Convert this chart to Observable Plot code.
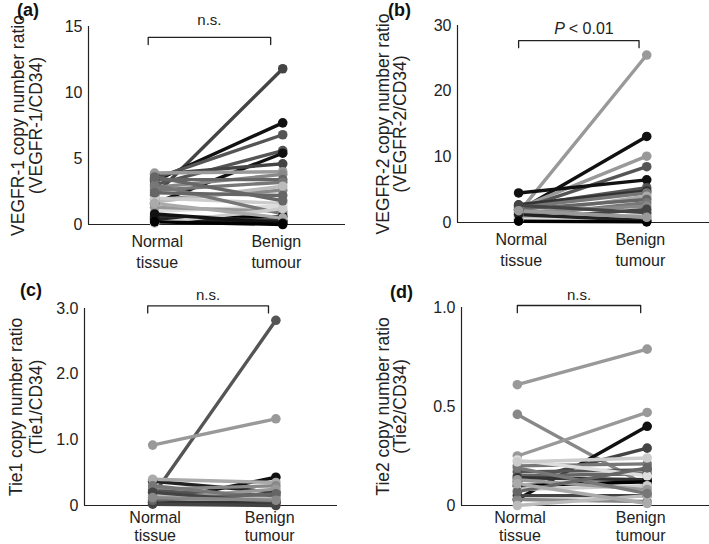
<!DOCTYPE html>
<html>
<head>
<meta charset="utf-8">
<script src="https://cdn.jsdelivr.net/npm/d3@7"></script>
<script src="https://cdn.jsdelivr.net/npm/@observablehq/plot@0.6"></script>
<style>
  body { margin: 0; background: #fff; }
  #root { position: relative; width: 709px; height: 544px; overflow: hidden; font-family: "Liberation Sans", Arial, sans-serif; }
  .panel { position: absolute; }
  .letter { position: absolute; font-weight: bold; font-size: 18px; line-height: 18px; color: #111; }
</style>
</head>
<body>
<div id="root"></div>
<script>
// ---------- data ----------
const xCats = ["Normal\ntissue", "Benign\ntumour"];
const xCatPos = [0.02, 0.95];

// (a) VEGFR-1
const aNormal = [2.2, 3.3, 3.5, 3.0, 1.6, 3.8, 3.9, 2.8, 3.4, 2.6, 1.9, 1.7, 2.0, 1.0, 1.3, 3.0, 0.5, 0.6, 0.4, 0.1, 1.6, 2.4, 0.8, 0.2, 3.6];
const aBenign = [11.8, 7.7, 6.8, 5.6, 5.4, 4.6, 4.0, 3.8, 3.4, 3.2, 2.6, 2.9, 1.6, 1.4, 1.0, 0.8, 0.6, 0.3, 0.2, 1.2, 0.5, 2.2, 0.1, 0.0, 1.8];
const aShade  = ["#444","#111","#555","#555","#111","#444","#999","#888","#666","#777","#888","#bbb","#ccc","#ddd","#999","#777","#000","#333","#222","#ccc","#aaa","#666","#111","#000","#666"];

// (b) VEGFR-2
const bNormal = [1.5, 1.8, 2.2, 2.0, 4.5, 2.5, 2.7, 2.3, 1.2, 2.0, 1.0, 1.5, 0.5, 0.3, 0.8, 0.4, 1.2, 0.2, 2.6, 1.8];
const bBenign = [25.5, 13.1, 10.1, 8.5, 6.5, 5.3, 4.8, 4.5, 4.0, 3.5, 3.0, 2.5, 2.0, 1.2, 1.0, 0.5, 0.3, 0.1, 1.5, 0.8];
const bShade  = ["#999","#111","#999","#555","#111","#555","#333","#777","#aaa","#666","#777","#888","#444","#ccc","#bbb","#ddd","#222","#000","#444","#999"];

// (c) Tie1
const cNormal = [0.15, 0.92, 0.05, 0.37, 0.40, 0.25, 0.22, 0.10, 0.30, 0.05, 0.02, 0.15, 0.08, 0.20, 0.12];
const cBenign = [2.82, 1.32, 0.43, 0.20, 0.35, 0.30, 0.15, 0.25, 0.10, 0.05, 0.00, 0.10, 0.18, 0.05, 0.08];
const cShade  = ["#555","#999","#111","#222","#aaa","#888","#555","#999","#777","#333","#444","#bbb","#666","#444","#888"];

// (d) Tie2
const dNormal = [0.61, 0.46, 0.25, 0.03, 0.12, 0.20, 0.17, 0.15, 0.14, 0.10, 0.08, 0.05, 0.03, 0.00, 0.13, 0.19, 0.23, 0.07, 0.11, 0.22];
const dBenign = [0.79, 0.10, 0.47, 0.40, 0.29, 0.21, 0.18, 0.16, 0.13, 0.12, 0.10, 0.05, 0.02, 0.05, 0.08, 0.06, 0.15, 0.19, 0.01, 0.24];
const dShade  = ["#999","#888","#999","#111","#444","#777","#555","#666","#333","#000","#ccc","#444","#888","#bbb","#999","#777","#ddd","#666","#aaa","#ccc"];

const panels = [
  {letter: "(a)", normal: aNormal, benign: aBenign, shade: aShade,
   yMax: 15, yTicks: [0, 5, 10, 15], yTickLabels: ["0", "5", "10", "15"],
   ylab: ["VEGFR-1 copy number ratio", "(VEGFR-1/CD34)"],
   sig: "n.s.", bracket: [-0.05, 0.906], bracketY: 14.17, sigY: 15.5,
   left: 0, top: 0, width: 355, mL: 88, mR: 10, mT: 26, mB: 48, xDomain: [-0.516, 1.49],
   labDx: [-70, -52], xdy: 7, xlh: 1.33, letterPos: [17, 1]},
  {letter: "(b)", normal: bNormal, benign: bBenign, shade: bShade,
   yMax: 30, yTicks: [0, 10, 20, 30], yTickLabels: ["0", "10", "20", "30"],
   ylab: ["VEGFR-2 copy number ratio", "(VEGFR-2/CD34)"],
   sig: "P", bracket: [0, 0.94], bracketY: 27.7, sigY: 29.5,
   left: 355, top: 0, width: 354, mL: 102, mR: 0, mT: 25, mB: 50, xDomain: [-0.477, 1.49],
   labDx: [-74, -57], xdy: 7, xlh: 1.33, letterPos: [388, 1]},
  {letter: "(c)", normal: cNormal, benign: cBenign, shade: cShade,
   yMax: 3, yTicks: [0, 1, 2, 3], yTickLabels: ["0", "1.0", "2.0", "3.0"],
   ylab: ["Tie1 copy number ratio", "(Tie1/CD34)"],
   sig: "n.s.", bracket: [-0.04, 0.94], bracketY: 3.04, sigY: 3.2,
   left: 0, top: 272, width: 355, mL: 84, mR: 18, mT: 36, mB: 39, xDomain: [-0.553, 1.5],
   labDx: [-68, -48], xdy: 4, xlh: 1.15, letterPos: [20, 281]},
  {letter: "(d)", normal: dNormal, benign: dBenign, shade: dShade,
   yMax: 1, yTicks: [0, 0.5, 1], yTickLabels: ["0", "0.5", "1.0"],
   ylab: ["Tie2 copy number ratio", "(Tie2/CD34)"],
   sig: "n.s.", bracket: [0, 0.95], bracketY: 1.01, sigY: 1.06,
   left: 355, top: 272, width: 354, mL: 106, mR: 0, mT: 35, mB: 39, xDomain: [-0.43, 1.48],
   labDx: [-78, -61], xdy: 4, xlh: 1.15, letterPos: [390, 283]}
];

const root = document.getElementById("root");
const ink = "#222";
const font = "'Liberation Sans', Arial, sans-serif";

for (const p of panels) {
  const rows = [];
  p.normal.forEach((v, i) => {
    rows.push({id: i, x: 0, y: v, c: p.shade[i]});
    rows.push({id: i, x: 1, y: p.benign[i], c: p.shade[i]});
  });
  const drop = p.yMax * 0.036;
  const br = [
    {x: p.bracket[0], y: p.bracketY - drop},
    {x: p.bracket[0], y: p.bracketY},
    {x: p.bracket[1], y: p.bracketY},
    {x: p.bracket[1], y: p.bracketY - drop}
  ];
  const mid = (p.bracket[0] + p.bracket[1]) / 2;
  const sigMarks = p.sig === "P"
    ? [Plot.text(["P"], {x: mid, y: p.sigY, text: d => d, textAnchor: "end", dx: -14, fontStyle: "italic", fontSize: 16, fill: ink}),
       Plot.text(["< 0.01"], {x: mid, y: p.sigY, text: d => d, textAnchor: "start", dx: -10, fontSize: 16, fill: ink})]
    : [Plot.text([p.sig], {x: mid, y: p.sigY, text: d => d, fontSize: 15, fill: ink})];

  const chart = Plot.plot({
    width: p.width,
    height: 272,
    marginLeft: p.mL, marginRight: p.mR, marginTop: p.mT, marginBottom: p.mB,
    style: {fontFamily: font, fontSize: "15px", color: ink, background: "transparent", overflow: "visible"},
    x: {domain: p.xDomain, axis: null},
    y: {domain: [0, p.yMax], axis: null},
    color: {type: "identity"},
    marks: [
      Plot.axisY({ticks: p.yTicks, tickSize: 0, tickPadding: 6, fontSize: 16,
        tickFormat: (d) => p.yTickLabels[p.yTicks.indexOf(d)], label: null}),
      Plot.ruleX([p.xDomain[0]], {y1: 0, y2: p.yMax, stroke: ink, strokeWidth: 1.2}),
      Plot.ruleY([0], {stroke: ink, strokeWidth: 1.2}),
      Plot.line(rows, {x: "x", y: "y", z: "id", stroke: "c", strokeWidth: 3.4}),
      Plot.dot(rows, {x: "x", y: "y", fill: "c", r: 4.8}),
      Plot.line(br, {x: "x", y: "y", stroke: ink, strokeWidth: 1.3}),
      ...sigMarks,
      Plot.text(xCats, {x: (d, i) => xCatPos[i], y: 0, text: d => d, dy: p.xdy, lineAnchor: "top", lineHeight: p.xlh, fontSize: 16, fill: ink}),
      Plot.text([p.ylab[0]], {frameAnchor: "left", textAnchor: "middle", y: p.yMax / 2, text: d => d, rotate: -90, dx: p.labDx[0], fontSize: 17.5, fill: ink}),
      Plot.text([p.ylab[1]], {frameAnchor: "left", textAnchor: "middle", y: p.yMax / 2, text: d => d, rotate: -90, dx: p.labDx[1], fontSize: 17.5, fill: ink})
    ]
  });
  chart.classList.add("panel");
  chart.style.left = p.left + "px";
  chart.style.top = p.top + "px";
  root.appendChild(chart);

  const L = document.createElement("div");
  L.className = "letter";
  L.textContent = p.letter;
  L.style.left = p.letterPos[0] + "px";
  L.style.top = p.letterPos[1] + "px";
  root.appendChild(L);
}
</script>
</body>
</html>
